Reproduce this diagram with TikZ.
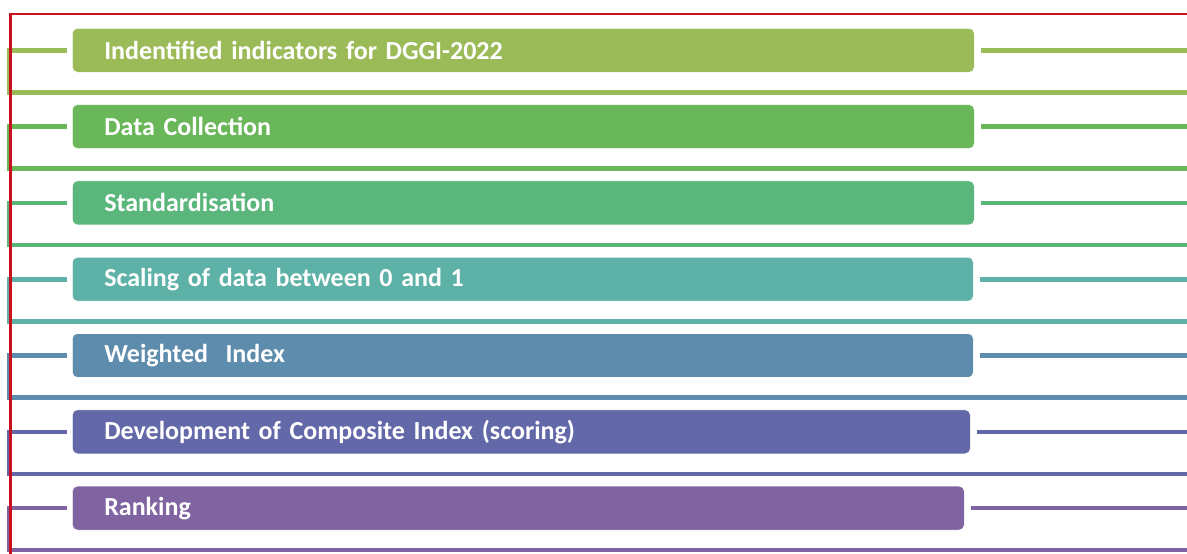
\documentclass[tikz,border=0pt]{standalone}
\usepackage{fontspec}
\setmainfont{Carlito}
\definecolor{cA}{HTML}{9BBB59}
\definecolor{cB}{HTML}{6AB75A}
\definecolor{cC}{HTML}{5BB67B}
\definecolor{cD}{HTML}{5EB1A6}
\definecolor{cE}{HTML}{5E8CAC}
\definecolor{cF}{HTML}{6268A8}
\definecolor{cG}{HTML}{8064A2}
\definecolor{frame}{HTML}{C8101E}
\tikzset{
  bar/.style={draw=white, line width=0.6pt, fill=#1, rounded corners=5pt, minimum height=44pt,
    inner xsep=32pt, inner ysep=0pt, anchor=west, align=left, text=white,
    font=\fontsize{26}{29}\selectfont\bfseries},
  link/.style={draw=#1, line width=4.6pt},
  redframe/.style={draw=frame, line width=2.3pt},
}
\begin{document}
\begin{tikzpicture}[x=1pt,y=-1pt]
\useasboundingbox (0,0) rectangle (1187,554);
\foreach \i/\c/\r/\t in {0/cA/974/{Indentified indicators for DGGI-2022},
                        1/cB/974/{Data Collection},
                        2/cC/974/{Standardisation},
                        3/cD/973/{Scaling of data between 0 and 1},
                        4/cE/973/{Weighted~ Index},
                        5/cF/970/{Development of Composite Index (scoring)},
                        6/cG/964/{Ranking}}{
  \pgfmathsetmacro{\cy}{50.3+76.3*\i}
  \pgfmathsetmacro{\by}{92.3+76.3*\i}
  \pgfmathsetmacro{\tw}{\r-72-64}
  \node[bar=\c, text width=\tw pt] (bar\i) at (72,\cy) {\t};
  \coordinate (left\i) at (9,\cy);
  \coordinate (corner\i) at (9,\by);
  \coordinate (end\i) at (1187,\by);
  \coordinate (right\i) at (1187,\cy);
  \draw[link=\c] ([xshift=-5pt]bar\i.west) -- (left\i.center) -- (corner\i.center) -- (end\i.center);
  \draw[link=\c] ([xshift=6pt]bar\i.east) -- (right\i.center);
}
\coordinate (fbot) at (10.5,554);
\coordinate (fcorner) at (10.5,14.3);
\coordinate (fright) at (1187,14.3);
\draw[redframe] (fbot) -- (fcorner) -- (fright);
\end{tikzpicture}
\end{document}
